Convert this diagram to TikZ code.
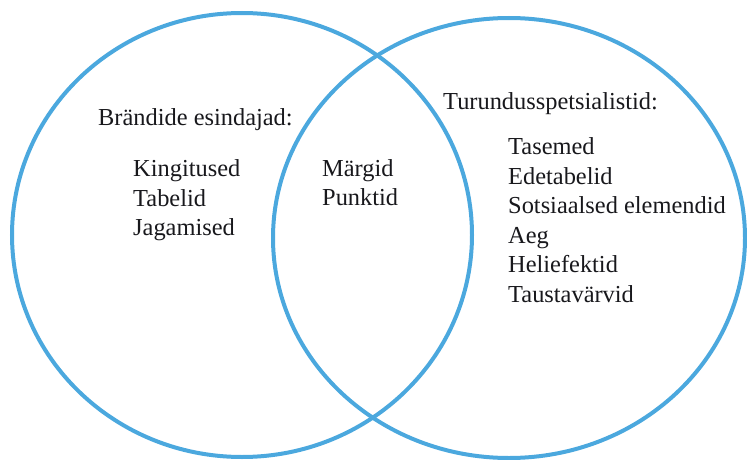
\documentclass[tikz,border=0pt]{standalone}
\usepackage{fontspec}
\setmainfont{Liberation Serif}
\definecolor{ringblue}{RGB}{75,168,222}
\definecolor{inktext}{RGB}{24,24,28}
\tikzset{
  ring/.style={draw=ringblue, line width=4pt},
  label/.style={anchor=base west, inner sep=0pt, text=inktext,
                font=\fontsize{24.4}{29}\selectfont},
}
\begin{document}
\begin{tikzpicture}[x=1pt, y=-1pt]
  \useasboundingbox (0,0) rectangle (747,460);
  % the two overlapping sets
  \draw[ring] (242,235) ellipse [x radius=230, y radius=222];
  \draw[ring] (509,238) ellipse [x radius=236, y radius=220];

  % left set
  \node[label] (lefthead) at (98,125) {Brändide esindajad:};
  \node[label] (l1) at (133,176) {Kingitused};
  \node[label] (l2) at (133,206) {Tabelid};
  \node[label] (l3) at (133,235) {Jagamised};

  % shared part
  \node[label] (m1) at (322,176) {Märgid};
  \node[label] (m2) at (322,205) {Punktid};

  % right set
  \node[label] (righthead) at (443,110) {Turundusspetsialistid:};
  \node[label] (r1) at (508,154) {Tasemed};
  \node[label] (r2) at (508,184) {Edetabelid};
  \node[label] (r3) at (508,213) {Sotsiaalsed elemendid};
  \node[label] (r4) at (508,243) {Aeg};
  \node[label] (r5) at (508,272) {Heliefektid};
  \node[label] (r6) at (508,302) {Taustavärvid};
\end{tikzpicture}
\end{document}
